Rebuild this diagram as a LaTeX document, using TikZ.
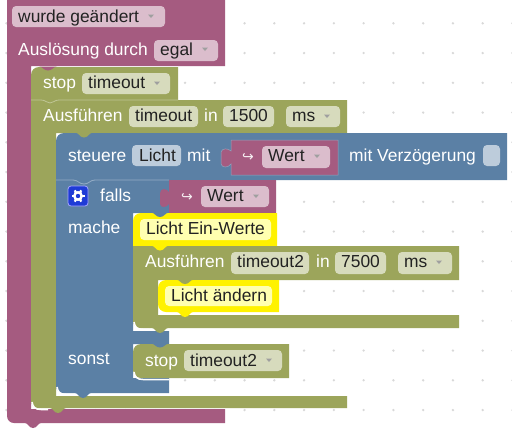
\documentclass[tikz,border=0pt]{standalone}
\usepackage{fontspec}
\setmainfont{Liberation Sans}
\usepackage{tikz}
\newfontfamily\symfont{DejaVu Sans}
\definecolor{purpleblk}{HTML}{A55B80}
\definecolor{purplefld}{HTML}{DBBDCC}
\definecolor{oliveblk}{HTML}{9CA55B}
\definecolor{olivefld}{HTML}{D7DBBD}
\definecolor{blueblk}{HTML}{5B80A5}
\definecolor{bluefld}{HTML}{BDCCDB}
\definecolor{gridgray}{HTML}{D8D8D8}
\definecolor{inneryellow}{HTML}{FFFFB0}
\definecolor{darktext}{HTML}{222222}
\definecolor{gearblue}{HTML}{1F3BD6}
\newcommand{\tabdn}[4]{\fill[#1] (#2-9,#3-0.5) .. controls (#2-4.5,#3) and (#2-4.5,#3+#4) .. (#2,#3+#4) .. controls (#2+4.5,#3+#4) and (#2+4.5,#3) .. (#2+9,#3-0.5) -- cycle;}
\begin{document}
\begin{tikzpicture}[
        x=1pt, y=-1pt,
        lbl/.style={anchor=base west, inner sep=0pt, text=white, font=\fontsize{17.4}{17.4}\selectfont},
        val/.style={anchor=base west, inner sep=0pt, text=darktext, font=\fontsize{17.4}{17.4}\selectfont},
        hook/.style={anchor=base west, inner sep=0pt, text=white!90!purpleblk, font=\symfont\fontsize{14}{14}\selectfont},
        fld/.style={rounded corners=4pt},
        tri/.style={fill=gray!75, draw=none},
        hl/.style={line width=0.8pt},
        glow/.style={white, line width=1.5pt},
    ]
    \useasboundingbox (0,0) rectangle (512,432);
    \fill[white] (0,0) rectangle (512,432);
    % background dots
    \foreach \i in {0,...,17} {
        \foreach \j in {0,...,14} {
            \fill[gridgray] ({6.4+29.77*\i},{23.3+29.75*(\j)}) circle (1.3pt);
        }
    }
    % purple hat block
    \fill[purpleblk] (7,0) -- (225,0) -- (225,66) -- (31,66) -- (31,409) -- (225,409) -- (225,423)
        -- (14,423) arc[start angle=90, end angle=180, radius=7] -- cycle;
    \tabdn{purpleblk}{33}{423}{5}
    % stop timeout
    \fill[oliveblk] (39,67) -- (178,67) -- (178,100) -- (31,100) -- (31,75)
        arc[start angle=180, end angle=270, radius=8] -- cycle;
    \tabdn{purpleblk}{48}{67}{3.5}
    % Ausfuehren timeout
    \fill[oliveblk] (31,100) -- (347,100) -- (347,133) -- (56,133) -- (56,396)
        -- (347,396) -- (347,408) -- (38,408)
        arc[start angle=90, end angle=180, radius=7] -- cycle;
    \draw[hl, oliveblk!65!white] (31,100) -- (41,100) .. controls (46,100) and (46,103) .. (50,103) .. controls (54,103) and (54,100) .. (59,100) -- (178,100);
    \tabdn{oliveblk}{58}{408}{5}
    \draw[glow] (32,402) .. controls (33,407) and (35,409.5) .. (41,409.5) -- (48,409.5);
    % steuere
    \fill[blueblk] (64,133) -- (507,133) -- (507,180) -- (56,180) -- (56,141)
        arc[start angle=180, end angle=270, radius=8] -- cycle;
    \tabdn{oliveblk}{84}{133}{4.5}
    % falls block
    \fill[blueblk] (56,180) -- (169,180) -- (169,213) -- (133,213) -- (133,331)
        -- (169,331) -- (169,344) -- (133,344) -- (133,378) -- (169,378) -- (169,393)
        -- (63,393) arc[start angle=90, end angle=180, radius=7] -- cycle;
    \draw[hl, blueblk!65!white] (56,180) -- (73,180) .. controls (78,180) and (79,184) .. (84,184) .. controls (89,184) and (90,180) .. (95,180) -- (169,180);
    \tabdn{blueblk}{83}{393}{5}
    \draw[glow] (57,387) .. controls (58,392) and (60,394.5) .. (66,394.5) -- (72,394.5);
    % Wert blocks
    \fill[purpleblk, draw=blueblk!70!white, line width=0.5pt] (231,140) -- (338,140) -- (338,175) -- (231,175) -- (231,164)
        .. controls (228,168) and (222,168) .. (221,164) -- (221,152) .. controls (222,148) and (228,148) .. (231,151) -- cycle;
    \fill[purpleblk] (169,180) -- (276,180) -- (276,213) -- (169,213) -- (169,204)
        .. controls (166,208) and (161,208) .. (160,204) -- (160,193) .. controls (161,188) and (166,188) .. (169,192) -- cycle;
    % Licht Ein-Werte
    \fill[yellow] (133,221) arc[start angle=180, end angle=270, radius=8] -- (277,213) -- (277,246) -- (133,246) -- cycle;
    \tabdn{blueblk}{160}{213}{4}
    \fill[inneryellow, rounded corners=4pt] (140,219) rectangle (271,240);
    % Ausfuehren timeout2
    \fill[oliveblk] (133,246) -- (459,246) -- (459,280) -- (158,280) -- (158,315)
        -- (459,315) -- (459,328) -- (140,328)
        arc[start angle=90, end angle=180, radius=7] -- cycle;
    \tabdn{yellow}{160}{246}{4.5}
    \tabdn{oliveblk}{160}{328}{5}
    \draw[glow] (134,322) .. controls (135,327) and (137,329.5) .. (143,329.5) -- (149,329.5);
    % Licht aendern
    \fill[yellow] (158,288) arc[start angle=180, end angle=270, radius=8] -- (279,280) -- (279,312) -- (166,312)
        arc[start angle=90, end angle=180, radius=8] -- cycle;
    \tabdn{oliveblk}{185}{280}{4}
    \tabdn{yellow}{185}{312}{5}
    \fill[inneryellow, rounded corners=4pt] (165,286) rectangle (272,306);
    % stop timeout2
    \fill[oliveblk] (141,344) -- (289,344) -- (289,378) -- (141,378) arc[start angle=90, end angle=180, radius=8]
        -- (133,352) arc[start angle=180, end angle=270, radius=8] -- cycle;
    \tabdn{blueblk}{160}{344}{3.5}
    \draw[glow] (134,372) .. controls (135,377) and (137,379.5) .. (143,379.5) -- (169,379.5);
    % fields
    \fill[purplefld, fld] (12,6) rectangle (165,27);
    \fill[purplefld, fld] (154,40) rectangle (218,61);
    \fill[olivefld, fld] (82,73) rectangle (170,94);
    \fill[olivefld, fld] (129,106) rectangle (198,127);
    \fill[olivefld, fld] (223,106) rectangle (274,127);
    \fill[olivefld, fld] (286,106) rectangle (340,127);
    \fill[bluefld, fld] (132,145) rectangle (181,166);
    \fill[purplefld, fld] (262,146) rectangle (330,168);
    \fill[bluefld, fld] (483,145) rectangle (500,166);
    \fill[purplefld, fld] (201,186) rectangle (269,207);
    \fill[olivefld, fld] (231,252) rectangle (309,274);
    \fill[olivefld, fld] (335,252) rectangle (386,274);
    \fill[olivefld, fld] (398,252) rectangle (452,274);
    \fill[olivefld, fld] (184,350) rectangle (282,371);
    % dropdown arrows
    \foreach \tx/\ty in {151/16,205/49,157/83,327/116,317/156,256/196,439/262,269/360} {
        \fill[tri] (\tx-3,\ty-1.5) -- (\tx+3,\ty-1.5) -- (\tx,\ty+2) -- cycle;
    }
    % gear icon
    \fill[gearblue, draw=blue!35!white, line width=0.8pt, rounded corners=3pt] (68,186) rectangle (88,206);
    \foreach \a in {0,60,...,300} {
        \draw[white, line width=2.2pt] (78,196) -- ++(\a:6.5);
    }
    \fill[white] (78,196) circle (5pt);
    \fill[gearblue] (78,196) circle (2.2pt);
    % labels
    \node[val] (geaendert) at (18,22) {wurde geändert};
    \node[lbl] (ausloesung) at (18,55) {Auslösung durch};
    \node[val] (egal) at (160,55) {egal};
    \node[lbl] (stopa) at (43,88) {stop};
    \node[val] (timeouta) at (88,88) {timeout};
    \node[lbl] (ausfa) at (43,121.5) {Ausführen};
    \node[val] (timeoutb) at (135,121.5) {timeout};
    \node[lbl] (ina) at (204,121.5) {in};
    \node[val] (msa) at (229,121.5) {1500};
    \node[val] (msb) at (292,121.5) {ms};
    \node[lbl] (steuere) at (68,161) {steuere};
    \node[val] (licht) at (139,161) {Licht};
    \node[lbl] (mit) at (187,161) {mit};
    \node[hook] (hooka) at (242,161) {↪};
    \node[val] (werta) at (268,161) {Wert};
    \node[lbl] (verz) at (349,161) {mit Verzögerung};
    \node[lbl] (falls) at (100,201) {falls};
    \node[hook] (hookb) at (181,201) {↪};
    \node[val] (wertb) at (207,201) {Wert};
    \node[lbl] (mache) at (68,233) {mache};
    \node[val] (ein) at (146,234) {Licht Ein-Werte};
    \node[lbl] (ausfb) at (145,267.5) {Ausführen};
    \node[val] (timeoutc) at (237,267.5) {timeout2};
    \node[lbl] (inb) at (316,267.5) {in};
    \node[val] (msc) at (341,267.5) {7500};
    \node[val] (msd) at (404,267.5) {ms};
    \node[val] (aendern) at (171,301) {Licht ändern};
    \node[lbl] (sonst) at (68,364) {sonst};
    \node[lbl] (stopb) at (145,366) {stop};
    \node[val] (timeoutd) at (190,366) {timeout2};
\end{tikzpicture}
\end{document}
